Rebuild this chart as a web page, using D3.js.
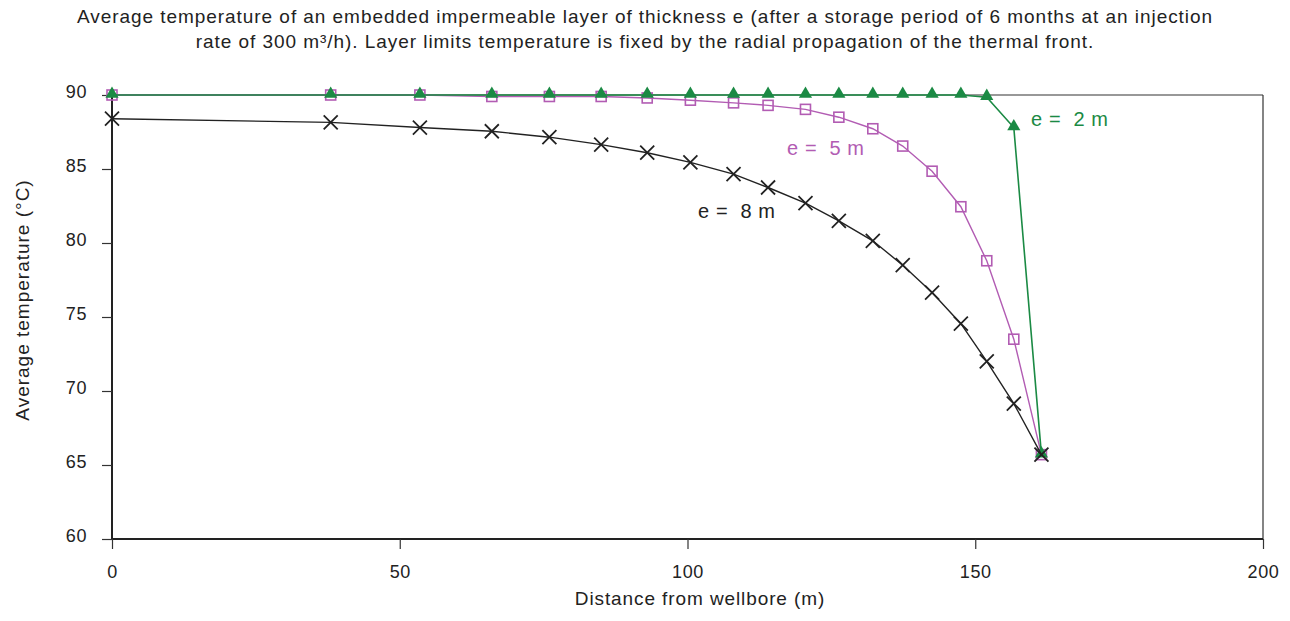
<!DOCTYPE html>
<html>
  <head>
    <meta charset="UTF-8">
    <title>Average temperature</title>
    <style>
      body { margin: 0; background: #fff; }
      text { font-family: "Liberation Sans", Arial, sans-serif; fill: #222; white-space: pre; }
    </style>
  </head>
  <body>
    <script src="https://d3js.org/d3.v7.min.js"></script>
    <svg width="1290" height="621" id="chart"></svg>
    <script>
      // distance from wellbore (m), shared by all three curves
      var distances = [0, 38, 53.5, 66, 76, 85, 93, 100.5, 108, 114, 120.5, 126.3, 132.2, 137.4, 142.5, 147.5, 152, 156.7, 161.5];
      var temp8m = [88.4, 88.15, 87.8, 87.55, 87.15, 86.65, 86.1, 85.45, 84.65, 83.75, 82.7, 81.5, 80.15, 78.5, 76.65, 74.55, 72.0, 69.15, 65.7];
      var temp5m = [90, 90, 90, 89.9, 89.9, 89.9, 89.8, 89.65, 89.47, 89.3, 89.03, 88.5, 87.72, 86.55, 84.85, 82.45, 78.8, 73.5, 65.7];
      var temp2m = [90, 90, 90, 90, 90, 90, 90, 90, 90, 90, 90, 90, 90, 90, 90, 90, 89.85, 87.8, 65.7];
      var xTicks = [0, 50, 100, 150, 200];
      var yTicks = [60, 65, 70, 75, 80, 85, 90];
      var titleLines = [
        "Average temperature of an embedded impermeable layer of thickness e (after a storage period of 6 months at an injection",
        "rate of 300 m\u00b3/h). Layer limits temperature is fixed by the radial propagation of the thermal front."
      ];

      var svg = d3.select("#chart");
      var x = d3.scaleLinear().domain([0, 200]).range([112, 1263]);
      var y = d3.scaleLinear().domain([60, 90]).range([539, 95]);

      // title
      svg.selectAll(".title").data(titleLines).enter().append("text")
        .attr("class", "title")
        .attr("x", 645).attr("y", function(d, i) { return 23 + i * 25; })
        .attr("text-anchor", "middle")
        .style("font-size", "19px").style("letter-spacing", "0.95px")
        .text(function(d) { return d; });

      // frame top and right
      svg.append("line").attr("x1", x(0)).attr("x2", x(200)).attr("y1", y(90)).attr("y2", y(90))
        .attr("stroke", "#333").attr("stroke-width", 1.2);
      svg.append("line").attr("x1", x(200)).attr("x2", x(200)).attr("y1", y(90)).attr("y2", y(60))
        .attr("stroke", "#333").attr("stroke-width", 1.2);

      // axes
      var xAxis = svg.append("g").attr("transform", "translate(0," + y(60) + ")")
        .call(d3.axisBottom(x).tickValues(xTicks).tickSize(10).tickPadding(16));
      var yAxis = svg.append("g").attr("transform", "translate(" + x(0) + ",0)")
        .call(d3.axisLeft(y).tickValues(yTicks).tickSize(10).tickPadding(15));
      [xAxis, yAxis].forEach(function(a) {
        a.select(".domain").attr("stroke", "#222").attr("stroke-width", 2);
        a.selectAll(".tick line").attr("stroke", "#333").attr("stroke-width", 1.2);
        a.selectAll(".tick text").style("font-size", "18px").style("letter-spacing", "0.6px")
          .style("font-family", "'Liberation Sans', Arial, sans-serif").attr("fill", "#222");
      });
      yAxis.selectAll(".tick text").attr("dy", "0.15em");
      xAxis.select(".domain").attr("d", "M" + x(0) + ",0H" + x(200));
      yAxis.select(".domain").attr("d", "M0," + y(60) + "V" + y(90));

      svg.append("text").attr("x", 700).attr("y", 605).attr("text-anchor", "middle")
        .style("font-size", "19px").style("letter-spacing", "0.9px").text("Distance from wellbore (m)");
      svg.append("text").attr("transform", "translate(29,300) rotate(-90)").attr("text-anchor", "middle")
        .style("font-size", "19px").style("letter-spacing", "1px").text("Average temperature (\u00b0C)");

      var line = d3.line().x(function(d) { return x(d[0]); }).y(function(d) { return y(d[1]); });
      function pairs(vals) { return distances.map(function(d, i) { return [d, vals[i]]; }); }

      // e = 5 m
      var c5 = "#b25cb3";
      svg.append("path").attr("d", line(pairs(temp5m))).attr("fill", "none").attr("stroke", c5).attr("stroke-width", 1.4);
      svg.selectAll(".sq").data(pairs(temp5m)).enter().append("rect").attr("class", "sq")
        .attr("x", function(d) { return x(d[0]) - 5; }).attr("y", function(d) { return y(d[1]) - 5; })
        .attr("width", 10).attr("height", 10).attr("fill", "none")
        .attr("stroke", c5).attr("stroke-width", 1.6);

      // e = 2 m
      var c2 = "#1b8a44";
      svg.append("path").attr("d", line(pairs(temp2m))).attr("fill", "none").attr("stroke", c2).attr("stroke-width", 1.6);
      var tri = d3.symbol().type(d3.symbolTriangle).size(75);
      svg.selectAll(".tri").data(pairs(temp2m)).enter().append("path").attr("class", "tri")
        .attr("transform", function(d) { return "translate(" + x(d[0]) + "," + (y(d[1]) - 1) + ")"; })
        .attr("d", tri).attr("fill", c2);

      // e = 8 m
      var c8 = "#222";
      svg.append("path").attr("d", line(pairs(temp8m))).attr("fill", "none").attr("stroke", c8).attr("stroke-width", 1.4);
      svg.selectAll(".xm").data(pairs(temp8m)).enter().append("path").attr("class", "xm")
        .attr("transform", function(d) { return "translate(" + x(d[0]) + "," + y(d[1]) + ")"; })
        .attr("d", "M-7,-7L7,7M-7,7L7,-7").attr("stroke", c8).attr("stroke-width", 1.8);

      // curve labels
      svg.append("text").attr("x", 1031).attr("y", 126).style("font-size", "20px").style("letter-spacing", "0.6px").style("fill", c2).text("e =  2 m");
      svg.append("text").attr("x", 787).attr("y", 155).style("font-size", "20px").style("letter-spacing", "0.6px").style("fill", c5).text("e =  5 m");
      svg.append("text").attr("x", 698).attr("y", 218).style("font-size", "20px").style("letter-spacing", "0.6px").style("fill", c8).text("e =  8 m");
    </script>
  </body>
</html>
